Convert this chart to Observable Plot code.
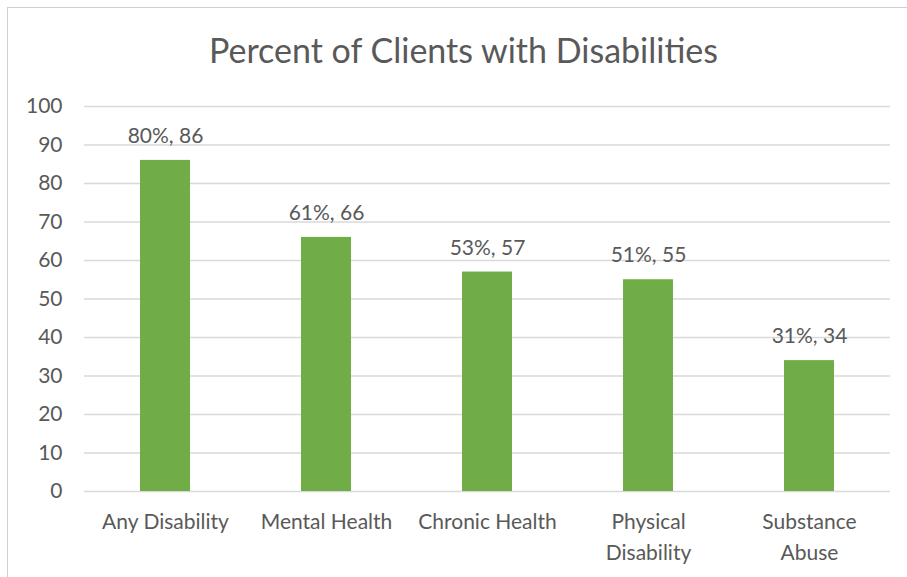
<!DOCTYPE html>
<html>
<head>
<meta charset="utf-8">
<script src="https://cdn.jsdelivr.net/npm/d3@7"></script>
<script src="https://cdn.jsdelivr.net/npm/@observablehq/plot@0.6"></script>
<style>
  html, body { margin: 0; padding: 0; background: #fff; }
  body { width: 907px; height: 577px; overflow: hidden; position: relative; font-family: Lato, "Noto Sans", sans-serif; }
  #frame { position: absolute; left: 7px; top: 7px; width: 920px; height: 600px; border: 1px solid #d0d0d0; box-sizing: border-box; }
  #title { position: absolute; left: 0; top: 0; width: 927px; height: 80px; text-align: center; line-height: 100px; font-size: 34px; color: #595959; }
  #chart { position: absolute; left: 0; top: 80px; }
</style>
</head>
<body>
<div id="frame"></div>
<div id="title">Percent of Clients with Disabilities</div>
<div id="chart"></div>
<script>
const categories = ["Any Disability", "Mental Health", "Chronic Health", "Physical\nDisability", "Substance\nAbuse"];
const counts = [86, 66, 57, 55, 34];
const percents = [80, 61, 53, 51, 31];
const yTicks = [0, 10, 20, 30, 40, 50, 60, 70, 80, 90, 100];

const data = categories.map((c, i) => ({category: c, count: counts[i], label: `${percents[i]}%, ${counts[i]}`}));

const chart = Plot.plot({
  width: 907,
  height: 497,
  marginLeft: 84,
  marginRight: 17,
  marginTop: 26,
  marginBottom: 86,
  style: {fontFamily: "Lato, 'Noto Sans', sans-serif", color: "#595959", background: "transparent"},
  x: {domain: categories, paddingInner: 0.69, paddingOuter: 0.345, axis: null},
  y: {domain: [0, 100], ticks: yTicks, axis: null},
  marks: [
    Plot.gridY(yTicks, {stroke: "#d9d9d9", strokeOpacity: 1, strokeWidth: 1.4}),
    Plot.axisY(yTicks, {tickSize: 0, tickPadding: 22, fontSize: 21, fill: "#595959", tickFormat: d => d, label: null}),
    Plot.barY(data, {x: "category", y: "count", fill: "#70AD47"}),
    Plot.text(data, {x: "category", y: "count", text: "label", dy: -24, fontSize: 21, fill: "#595959", style: {letterSpacing: "0.3px"}}),
    Plot.text(data, {x: "category", text: "category", frameAnchor: "bottom", lineAnchor: "top", dy: 16, fontSize: 21, lineHeight: 1.46, fill: "#595959", style: {letterSpacing: "0.4px"}})
  ]
});
document.getElementById("chart").appendChild(chart);
</script>
</body>
</html>
